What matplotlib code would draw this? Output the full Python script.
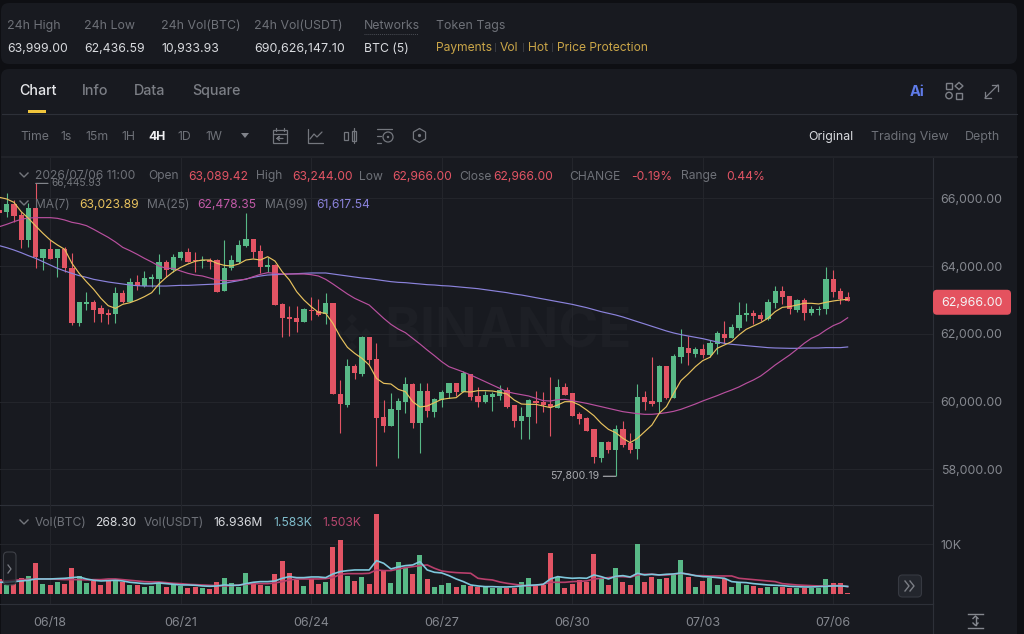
import numpy as np
import matplotlib
matplotlib.use("Agg")
import matplotlib.pyplot as plt
from matplotlib.patches import FancyBboxPatch, Rectangle, Polygon, Circle

plt.rcParams["font.family"] = ["Inter", "DejaVu Sans"]

# 4h candles, oldest first
opens = [65660,
    65611, 65827, 65512, 64774, 65729, 64243, 64499, 64233, 64499, 63938,
    62314, 62885, 62934, 62757, 62619, 62580, 63200, 62954, 63525, 63416,
    63613, 63623, 64135, 63889, 64233, 64410, 64184, 64155, 64184, 64184,
    63269, 63958, 64135, 64597, 64804, 64450, 63978, 64037, 62885, 62492,
    62472, 62344, 62708, 62688, 62590, 62925, 60238, 59914, 61065, 60809,
    61901, 61272, 59540, 59284, 59756, 59992, 60524, 59382, 60327, 59707,
    60051, 60268, 60543, 60297, 60819, 60170, 59983, 60150, 60179, 60347,
    59904, 59441, 59540, 60032, 60002, 59933, 59805, 60425, 60248, 59628,
    59510, 59195, 58339, 58812, 58575, 59185, 58772, 58596, 60141, 60022,
    59983, 61046, 60121, 61311, 61597, 61400, 61548, 61380, 61695, 62010,
    61872, 62168, 62551, 62610, 62551, 62433, 62906, 63270, 63112, 62709,
    63004, 62610, 62699, 62729, 63624, 63270, 63089.42]
highs = [65700,
    66152, 65955, 65611, 65857, 66445.93, 64499, 64774, 64499, 64558, 64381,
    62954, 63230, 63003, 62856, 62738, 63377, 63298, 63643, 63741, 63869,
    63771, 64351, 64184, 64351, 64460, 64548, 64430, 64312, 64253, 64214,
    64774, 64332, 64774, 65581, 64804, 64627, 64282, 64066, 62905, 62826,
    62826, 62757, 63082, 63023, 63200, 62925, 60642, 61252, 61104, 61941,
    61901, 61724, 60051, 60248, 60101, 60720, 60543, 60543, 60563, 60101,
    60347, 60563, 60543, 60907, 60819, 60445, 60317, 60297, 60494, 60425,
    59904, 59855, 60071, 60327, 60278, 60740, 60662, 60543, 60248, 59707,
    59559, 59195, 58812, 58851, 59313, 59441, 59067, 60514, 60328, 61311,
    61085, 61046, 61410, 62158, 61941, 61607, 61705, 61823, 62089, 62384,
    62296, 62955, 62906, 62709, 62650, 63043, 63427, 63417, 63112, 63034,
    63053, 62827, 62827, 63968, 63890, 63368, 63244]
lows = [65500,
    65443, 65316, 64528, 64558, 63958, 63889, 64223, 63672, 63840, 62265,
    62246, 62708, 62364, 62364, 62295, 62334, 62905, 62954, 63298, 63377,
    63397, 63170, 63692, 63840, 64184, 64115, 63840, 63938, 63908, 63249,
    63269, 63889, 64086, 64558, 64233, 63790, 63840, 62846, 61921, 61950,
    62068, 62344, 62413, 62531, 62295, 60219, 59087, 59835, 60661, 60760,
    61114, 58103, 59117, 59284, 58329, 59677, 59215, 58497, 59559, 59559,
    59855, 60101, 60170, 60297, 60051, 59835, 59953, 59727, 60051, 59805,
    59245, 58890, 58890, 59363, 59707, 58999, 59805, 60189, 59589, 59343,
    59126, 58201, 58231, 58477, 57800.19, 58674, 58497, 58310, 59757, 59875,
    59658, 60082, 60121, 61134, 61085, 61311, 61282, 61331, 61410, 61725,
    61872, 62118, 62384, 62296, 62384, 62414, 62758, 62886, 62581, 62640,
    62414, 62561, 62561, 62581, 63102, 62876, 62966]
closes = [65580,
    65827, 65483, 64774, 65729, 64263, 64499, 64223, 64499, 63938, 62314,
    62934, 62934, 62718, 62580, 62551, 63200, 62954, 63525, 63416, 63643,
    63672, 64135, 63889, 64282, 64410, 64135, 64155, 64184, 64135, 63249,
    63958, 64184, 64637, 64804, 64410, 63968, 64027, 62846, 62472, 62452,
    62344, 62728, 62669, 62560, 62905, 60219, 59923, 61065, 60839, 61921,
    61232, 59530, 59284, 59786, 60032, 60524, 59363, 60327, 59727, 60081,
    60297, 60543, 60297, 60839, 60130, 59983, 60199, 60219, 60347, 59835,
    59431, 59579, 60042, 59973, 59904, 59835, 60425, 60209, 59589, 59491,
    59126, 58359, 58812, 58575, 59195, 58733, 58575, 60141, 59983, 59924,
    61066, 60101, 61361, 61607, 61430, 61548, 61380, 61735, 62020, 61872,
    62197, 62561, 62610, 62542, 62433, 62935, 63280, 63102, 62748, 63004,
    62610, 62729, 62748, 63624, 63250, 63034, 62966]

ma7 = [66034,
    65985, 65886, 65611, 65414, 65188, 64971, 64774, 64627, 64499, 64086,
    63790, 63544, 63318, 63052, 62836, 62757, 62875, 62924, 63003, 63102,
    63220, 63476, 63672, 63840, 63968, 64066, 64145, 64184, 64184, 64086,
    64027, 64007, 64066, 64184, 64214, 64184, 64282, 64154, 63840, 63594,
    63249, 63003, 62806, 62639, 62610, 62314,
    61921, 61606, 61429, 61281, 61085, 60691, 60543, 60524, 60366, 60297,
    60002, 59845, 59874, 59973, 60071, 60101, 60120, 60297, 60288, 60327,
    60327, 60317, 60278, 60228, 60051, 59933, 59923, 59923, 59874, 59825,
    59904, 60002, 60002, 59904, 59756, 59589, 59363, 59185, 59087, 58920,
    58792, 58920, 59117, 59314, 59658, 59855, 60249, 60623, 60820, 61036,
    61213, 61312, 61577, 61676, 61774, 61971, 62138, 62237, 62335, 62463,
    62660, 62788, 62807, 62856, 62906, 62906, 62886, 62935, 62974, 63004, 63023.89]
ma25 = [65168,
    65237, 65316, 65385, 65424, 65434, 65434, 65434, 65414, 65365, 65296,
    65257, 65198, 65089, 64971, 64853, 64715, 64558, 64460, 64351, 64233,
    64125, 64007, 63938, 63938, 63859, 63790, 63741, 63712, 63653, 63594,
    63574, 63574, 63594, 63613, 63692, 63761, 63810, 63790, 63771, 63771,
    63771, 63771, 63751, 63712, 63613, 63476,
    63328, 63181, 63053, 62954, 62856, 62659, 62462, 62285, 62147, 62039,
    61872, 61705, 61527, 61360, 61183, 61035, 60957, 60878, 60789, 60691,
    60593, 60494, 60396, 60297, 60248, 60209, 60170, 60101, 60032, 60022,
    60061, 60071, 60032, 59992, 59953, 59904, 59855, 59805, 59756, 59707,
    59677, 59649, 59629, 59629, 59649, 59678, 59717, 59776, 59855, 59934,
    60022, 60101, 60180, 60268, 60347, 60436, 60544, 60642, 60760, 60918,
    61085, 61233, 61380, 61548, 61725, 61872, 61971, 62118, 62246, 62335, 62478.35]
ma99 = [64607,
    64548, 64479, 64400, 64312, 64233, 64135, 64036, 63938, 63859, 63790,
    63722, 63672, 63613, 63574, 63535, 63505, 63476, 63446, 63426, 63416,
    63416, 63416, 63416, 63426, 63436, 63436, 63446, 63456, 63466, 63476,
    63495, 63535, 63574, 63623, 63672, 63712, 63741, 63751, 63761, 63771,
    63781, 63791, 63801, 63801, 63801, 63771,
    63741, 63712, 63682, 63653, 63633, 63604, 63574, 63545, 63525, 63515,
    63495, 63476, 63456, 63446, 63427, 63417, 63397, 63377, 63358, 63338,
    63308, 63279, 63249, 63220, 63180, 63151, 63112, 63072, 63033, 62994,
    62954, 62915, 62875, 62826, 62777, 62718, 62659, 62610, 62561, 62502,
    62433, 62364, 62296, 62227, 62158, 62089, 62030, 61981, 61941, 61902,
    61863, 61813, 61764, 61725, 61695, 61676, 61656, 61636, 61617, 61597,
    61587, 61582, 61577, 61577, 61587, 61587, 61587, 61597, 61597, 61597, 61617.54]

volumes = [3068,
    1868, 2068, 3200, 3668, 6336, 2000, 1868, 2535, 2134, 5336,
    3735, 2200, 2668, 1868, 2868, 2735, 2468, 1868, 1868, 1534,
    1668, 2268, 1400, 2068, 1668, 1200, 1400, 1334, 1067, 2400,
    3335, 2334, 1534, 4335, 2200, 1868, 1668, 4068, 6603, 4200,
    2800, 1668, 3068, 2068, 2535, 9404, 10872, 3735, 2668, 3400,
    2134, 16000, 4870, 2200, 6400, 5200, 4000, 7870, 3068, 1534,
    1868, 2334, 1400, 1934, 1668, 1534, 1534, 1334, 1334, 1267,
    1334, 2400, 3335, 1734, 1868, 8200, 3535, 1267, 2000, 2868,
    2400, 8000, 3068, 1868, 5200, 2400, 1868, 10138, 2400, 3535,
    3135, 3335, 3868, 6870, 3468, 1467, 2668, 3335, 1868, 3068,
    1467, 2400, 1868, 1668, 1200, 1534, 1534, 1534, 1200, 1267,
    1200, 1267, 1267, 3000, 2200, 2200, 268.30]
vol_ma5 = [2401,
    2401, 2535, 2668, 2801, 3068, 3068, 3068, 3135, 3202, 3335,
    3468, 3068, 2801, 2668, 2735, 2801, 2668, 2401, 2268, 2134,
    2134, 2268, 2134, 2001, 1868, 1868, 1801, 1668, 1601, 1668,
    1868, 1801, 1801, 2134, 2401, 2535, 2535, 2668, 3202, 3535,
    3335, 3335, 3468, 3468, 3335, 4069, 4536,
    4736, 4869, 4869, 4869, 6737, 6203, 5069, 5469, 5736, 5870,
    6537, 4869, 4402, 4269, 3735, 3068, 2535, 1868, 1668, 1534,
    1534, 1467, 1467, 1534, 1668, 1801, 1868, 2001, 3068, 3535,
    3335, 3202, 3268, 3202, 3869, 3535, 3068, 3602, 3735, 3468,
    4202, 3869, 4002, 3869, 4002, 4069,
    4269, 4002, 3735, 3535, 3468, 3335, 3202, 2535, 2401, 2335,
    2134, 2001, 1868, 1801, 1734, 1601, 1534, 1467, 1467, 1534,
    1601, 1668, 1668, 1583]
vol_ma10 = [2535,
    2668, 2801, 2935, 3002, 3068, 3068, 3068, 3002, 2935, 2935,
    2935, 2868, 2935, 2935, 3068, 3068, 2935, 2801, 2668, 2535,
    2468, 2468, 2335, 2201, 2134, 2001, 1934, 1868, 1801, 1734,
    1668, 1734, 1868, 2001, 2134, 2134, 2134, 2268, 2535, 2868,
    3068, 3068, 3068, 3068, 3135, 3335, 4002,
    4135, 4135, 4135, 4202, 4869, 4736, 4736, 5069, 5336, 5536,
    5736, 5870, 5203, 4669, 4469, 4336, 4269, 4202, 3202, 3002,
    2868, 2468, 2201, 2001, 1801, 1668, 1801, 2001, 2401, 2401,
    2401, 2535, 2601, 2668, 3068, 3202, 3335, 3535, 3535, 3402,
    3869, 4002, 4002, 3869, 3869, 4002,
    4202, 4069, 3735, 3735, 3669, 3669, 3669, 3669, 3202, 3068,
    2935, 2801, 2668, 2535, 2134, 2001, 1868, 1801, 1734, 1668,
    1668, 1734, 1801, 1503]

price_ticks = [58000, 60000, 62000, 64000, 66000]
date_labels = ["06/18", "06/21", "06/24", "06/27", "06/30", "07/03", "07/06"]
date_candles = [7, 25, 43, 61, 79, 97, 115]
last_price = 62966.00

stat_names = ["24h High", "24h Low", "24h Vol(BTC)", "24h Vol(USDT)", "Networks", "Token Tags"]
stat_values = ["63,999.00", "62,436.59", "10,933.93", "690,626,147.10", "BTC (5)"]
token_tags = ["Payments", "Vol", "Hot", "Price Protection"]
tabs = ["Chart", "Info", "Data", "Square"]
intervals = ["Time", "1s", "15m", "1H", "4H", "1D", "1W"]
views = ["Original", "Trading View", "Depth"]

PAGE = "#0e0f13"
PANEL = "#181a20"
GRID = "#23252b"
RULE = "#2d3038"
MUTED = "#6e7178"
AXIS_TEXT = "#85888f"
BRIGHT = "#d9dbdf"
GREEN = "#58b987"
RED = "#e25464"
GOLD = "#c9a548"
MA7_C = "#e8c25e"
MA25_C = "#b9509f"
MA99_C = "#8b83dc"
VMA5_C = "#7fc8dc"
VMA10_C = "#b83f6c"

W, H = 1024, 634
fig = plt.figure(figsize=(W / 100, H / 100), dpi=100, facecolor=PAGE)


def px_axes(x0, y0, x1, y1, zorder):
    # axes placed by pixel box, y measured from the top of the figure
    return fig.add_axes([x0 / W, 1 - y1 / H, (x1 - x0) / W, (y1 - y0) / H], zorder=zorder)


def screen_layer(zorder):
    a = px_axes(0, 0, W, H, zorder)
    a.set_xlim(0, W)
    a.set_ylim(H, 0)
    a.axis("off")
    a.patch.set_alpha(0)
    return a


back = screen_layer(0)
ui = screen_layer(5)

# page panels and watermark
for box in [(1, 3, 1016, 61), (1, 69, 1016, 575)]:
    back.add_patch(FancyBboxPatch((box[0], box[1]), box[2], box[3],
                                  boxstyle="round,pad=0,rounding_size=8", fc=PANEL, ec="none"))
back.text(384, 333, "BINANCE", color="#1d1f25", fontsize=39, fontweight="bold", va="center")
for cx, cy, r in [(352, 333, 9), (338, 333, 5), (366, 333, 5), (352, 319, 5), (352, 347, 5)]:
    back.add_patch(Polygon([(cx - r, cy), (cx, cy - r), (cx + r, cy), (cx, cy + r)], fc="#1d1f25", ec="none"))

# candle index 0 sits just off the left edge, 7.25 px per candle
xlim = (0.076, 128.77)
idx = np.arange(len(closes))
o, h, l, c = map(np.array, (opens, highs, lows, closes))
up = c >= o
colors = np.where(up, GREEN, RED)

ax = px_axes(0, 158, 933, 505, 2)
ax.patch.set_alpha(0)
ax.set_xlim(*xlim)
ax.set_ylim(56952, 67195)
ax.set_xticks(date_candles)
ax.tick_params(axis="x", length=0, labelbottom=False)
ax.yaxis.tick_right()
ax.set_yticks(price_ticks)
ax.set_yticklabels([f"{v:,.2f}" for v in price_ticks])
ax.tick_params(axis="y", length=0, pad=5.5, labelsize=8.9, labelcolor=AXIS_TEXT)
ax.grid(True, color=GRID, lw=0.8)
ax.set_axisbelow(True)
for name, sp in ax.spines.items():
    sp.set_visible(name in ("right", "bottom"))
    sp.set_color(RULE)
    sp.set_linewidth(0.8)

ax.vlines(idx, l, h, colors=colors, lw=0.8, zorder=3)
ax.bar(idx, np.abs(c - o), bottom=np.minimum(o, c), width=0.72, color=colors, zorder=3, linewidth=0)
ax.plot(idx, ma99, color=MA99_C, lw=0.85, zorder=4)
ax.plot(idx, ma25, color=MA25_C, lw=0.85, zorder=4)
ax.plot(idx, ma7, color=MA7_C, lw=0.85, zorder=5)

# high / low call-outs
hi_i = int(np.argmax(h))
lo_i = int(np.argmin(l))
ax.annotate("", xy=(hi_i, h[hi_i]), xytext=(hi_i + 1.7, h[hi_i]),
            arrowprops=dict(arrowstyle="-", color="#8a8d93", lw=0.8, shrinkA=0, shrinkB=0))
ax.text(hi_i + 2.2, h[hi_i], f"{h[hi_i]:,.2f}", color="#74777d", fontsize=7.3, va="center", zorder=6)
ax.annotate("", xy=(lo_i, l[lo_i]), xytext=(lo_i - 1.7, l[lo_i]),
            arrowprops=dict(arrowstyle="-", color="#b5b7bb", lw=0.8, shrinkA=0, shrinkB=0))
ax.text(lo_i - 2.2, l[lo_i], f"{l[lo_i]:,.2f}", color="#a9abb0", fontsize=7.6, va="center", ha="right", zorder=6)

# last price tag on the scale
tag_y = ax.transData.transform((0, last_price))[1]
tag_y = H - tag_y + 1
ui.add_patch(FancyBboxPatch((933, tag_y - 12.5), 78, 25, boxstyle="round,pad=0,rounding_size=4",
                            fc="#e4525f", ec="none"))
ui.text(972, tag_y + 0.5, f"{last_price:,.2f}", color="#f4f4f5", fontsize=8.9, ha="center", va="center")

# volume pane
vax = px_axes(0, 505, 933, 603.5, 2)
vax.patch.set_alpha(0)
vax.set_xlim(*xlim)
vax.set_ylim(-1840, 17860)
vax.set_xticks(date_candles)
vax.set_xticklabels(date_labels)
vax.tick_params(axis="x", length=0, pad=9.5, labelsize=9, labelcolor=AXIS_TEXT)
vax.yaxis.tick_right()
vax.set_yticks([10000])
vax.set_yticklabels(["10K"])
vax.tick_params(axis="y", length=0, pad=5.5, labelsize=8.9, labelcolor=AXIS_TEXT)
vax.grid(True, color=GRID, lw=0.8)
vax.set_axisbelow(True)
for name, sp in vax.spines.items():
    sp.set_visible(name in ("right", "bottom"))
    sp.set_color(RULE)
    sp.set_linewidth(0.8)
vax.bar(idx, volumes, width=0.7, color=colors, zorder=3, linewidth=0)
vax.plot(idx, vol_ma10, color=VMA10_C, lw=1.2, zorder=4)
vax.plot(idx, vol_ma5, color=VMA5_C, lw=1.2, zorder=5)
ui.plot([933, 933], [603, 634], color=RULE, lw=0.8)


def label(x, y, s, color=MUTED, size=8.9, **kw):
    # baseline anchored so descenders don't shift a row
    ui.text(x, y + 5, s, color=color, fontsize=size, va="baseline", **kw)


# stats strip
for x, s in zip([7, 84, 161, 254, 364, 436], stat_names):
    label(x, 24, s)
for x, s in zip([7, 84, 161, 254, 364], stat_values):
    label(x, 46.5, s, color=BRIGHT, size=9 if len(s) > 10 else 8.8)
ui.plot([364, 418], [33.5, 33.5], color="#4a4d54", lw=0.7, ls=(0, (1, 1)))
for x, s in zip([436, 500, 528, 557], token_tags):
    label(x, 46, s, color=GOLD, size=8.7)
for x in (495, 522.5, 551.5):
    ui.plot([x, x], [43, 51], color="#3a3c42", lw=0.7)

# tabs
for x, s, col in zip([19, 82, 134, 192], tabs, ["#e6e7ea", "#7b7e85", "#7b7e85", "#7b7e85"]):
    label(x, 90, s, color=col, size=10.3, fontweight="medium")
ui.add_patch(Rectangle((28, 110), 18, 3.2, fc="#f0c53c", ec="none"))
ui.plot([2, 1017], [113.5, 113.5], color=RULE, lw=0.8)
ui.plot([2, 1017], [157, 157], color="#24262c", lw=1.2)

# interval toolbar
for x, s in zip([20, 60, 85, 121, 148, 177, 205], intervals):
    label(x, 135, s, color="#f0f0f2" if s == "4H" else MUTED, size=8.8,
          fontweight="bold" if s == "4H" else "normal")
ui.add_patch(Polygon([(241, 133), (249, 133), (245, 138)], fc="#80838a", ec="none"))
for x, s, col in zip([808, 871, 965], views, [BRIGHT, MUTED, MUTED]):
    label(x, 135, s, color=col, size=8.9)

ICON = "#74777e"
icon = dict(color=ICON, lw=0.9, solid_capstyle="round")
# calendar
ui.add_patch(Rectangle((273, 130), 14, 13, fc="none", ec=ICON, lw=0.9))
ui.plot([273, 287], [134, 134], **icon)
ui.plot([276, 276], [128, 131], **icon)
ui.plot([284, 284], [128, 131], **icon)
ui.plot([283, 277, 279.5, 277, 279.5], [138.5, 138.5, 136.5, 138.5, 140.5], **icon)
# line chart
ui.plot([308, 308, 323], [129, 143, 143], **icon)
ui.plot([310, 314, 317, 322], [139, 134, 137, 132], **icon)
# candles
ui.add_patch(Rectangle((344, 132), 4, 8, fc="none", ec=ICON, lw=0.9))
ui.add_patch(Rectangle((352, 131), 4, 10, fc="none", ec=ICON, lw=0.9))
ui.plot([354, 354], [128, 143], **icon)
# alert lines
ui.plot([377, 392], [129, 129], **icon)
ui.plot([377, 381], [136, 136], **icon)
ui.plot([377, 381], [143, 143], **icon)
ui.add_patch(Circle((388, 137), 5, fc="none", ec=ICON, lw=0.9))
ui.add_patch(Circle((388, 137), 1.2, fc=ICON, ec="none"))
# hexagon
hx = [419.5 + 7 * np.sin(a) for a in np.arange(0, 7) * np.pi / 3]
hy = [135.5 - 7 * np.cos(a) for a in np.arange(0, 7) * np.pi / 3]
ui.plot(hx, hy, **icon)
ui.add_patch(Circle((419.5, 135.5), 1.6, fc=ICON, ec="none"))

# header right icons
ui.text(917.5, 92.5, "Ai", color="#5f7be8", fontsize=10.5, fontweight="bold", ha="center", va="center")
GR = "#7d8087"
ui.add_patch(Rectangle((946, 83), 6, 6, fc="none", ec=GR, lw=1))
ui.add_patch(Polygon([(955, 86), (959, 82.5), (963, 86), (959, 89.5)], fc="none", ec=GR, lw=1))
ui.add_patch(Circle((949, 95.5), 3.2, fc="none", ec=GR, lw=1))
ui.add_patch(Rectangle((956, 92.5), 6, 6, fc="none", ec=GR, lw=1))
ui.plot([985, 998], [98, 85], color=GR, lw=0.9)
ui.plot([992, 998, 998], [85, 85, 91], color=GR, lw=0.9)
ui.plot([985, 985, 991], [92, 98, 98], color=GR, lw=0.9)

# OHLC legend rows
chev = dict(color="#73767c", lw=1)
for yc in (175, 203, 522):
    ui.plot([20, 24, 28], [yc - 2, yc + 2, yc - 2], **chev)
for x, s, col in [(35, "2026/07/06 11:00", MUTED), (148, "Open", MUTED), (188, "63,089.42", RED),
                  (256, "High", MUTED), (292, "63,244.00", RED), (359, "Low", MUTED),
                  (392, "62,966.00", RED), (459, "Close", MUTED), (493, "62,966.00", RED),
                  (569, "CHANGE", MUTED), (631, "-0.19%", RED), (681, "Range", MUTED),
                  (726, "0.44%", RED)]:
    label(x, 174.5, s, color=col, size=8.7)
for x, s, col in [(35, "MA(7)", MUTED), (79, "63,023.89", MA7_C), (147, "MA(25)", MUTED),
                  (197, "62,478.35", "#c25aa8"), (265, "MA(99)", MUTED), (316, "61,617.54", MA99_C)]:
    label(x, 202.7, s, color=col, size=8.7)
for x, s, col in [(35, "Vol(BTC)", MUTED), (95, "268.30", BRIGHT), (144, "Vol(USDT)", MUTED),
                  (213, "16.936M", BRIGHT), (273, "1.583K", "#7fbccb"), (322, "1.503K", "#b8476f")]:
    label(x, 521, s, color=col, size=8.7)

# pane controls
ui.add_patch(FancyBboxPatch((3.5, 552), 12.5, 33, boxstyle="round,pad=0,rounding_size=4",
                            fc="#1c1e24", ec="#4a4d54", lw=0.8, alpha=0.75))
ui.plot([8, 11, 8], [565, 569, 573], color="#7b7e85", lw=0.9)
ui.add_patch(FancyBboxPatch((898.5, 575), 23, 22, boxstyle="round,pad=0,rounding_size=4",
                            fc="#23262d", ec="#363941", lw=0.8))
ui.plot([905, 909, 905], [581, 586, 591], color="#7b7e85", lw=1)
ui.plot([910, 914, 910], [581, 586, 591], color="#7b7e85", lw=1)
for yl in (613.5, 628):
    ui.plot([968, 983], [yl, yl], color="#85888f", lw=1)
ui.plot([975.5, 975.5], [616.5, 625], color="#85888f", lw=1)
ui.plot([973, 975.5, 978], [618.5, 616, 618.5], color="#85888f", lw=1)
ui.plot([973, 975.5, 978], [623, 625.5, 623], color="#85888f", lw=1)

ui.set_xlim(0, W)
ui.set_ylim(H, 0)
fig.savefig("out.png", dpi=100, facecolor=fig.get_facecolor())
